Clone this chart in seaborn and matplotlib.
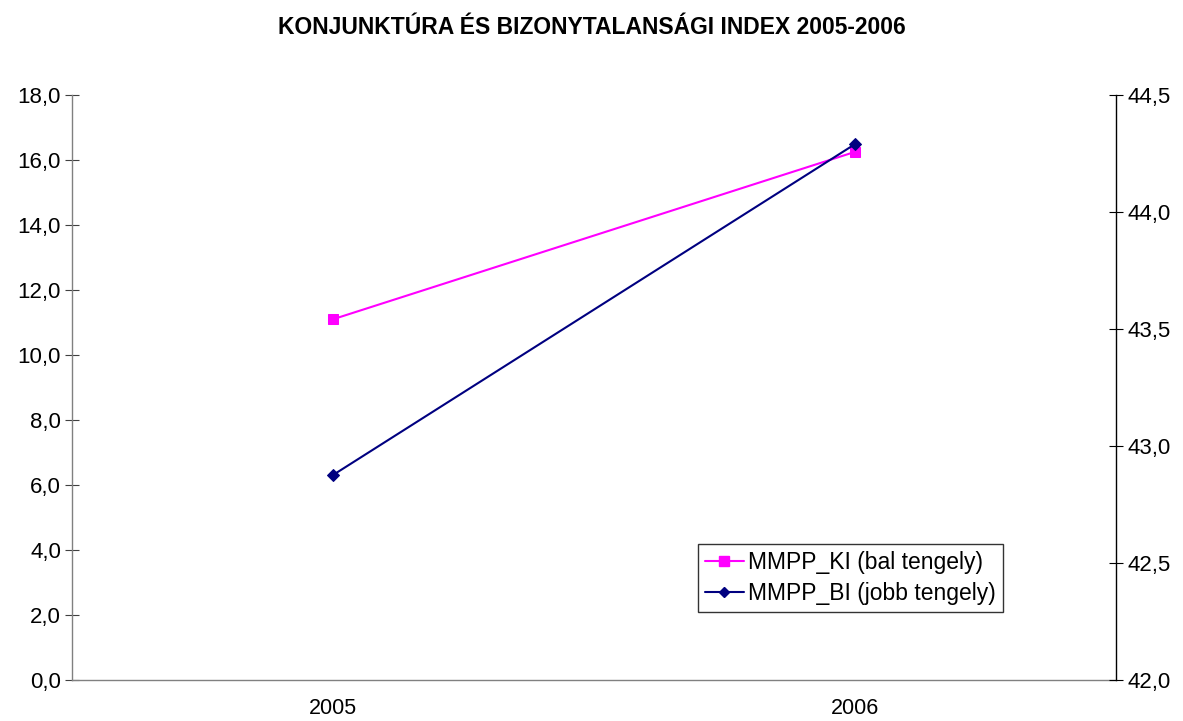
import matplotlib
matplotlib.use("Agg")
import matplotlib.pyplot as plt
import seaborn as sns
import pandas as pd
from matplotlib.ticker import FuncFormatter
from matplotlib.lines import Line2D

years = ["2005", "2006"]
ki_values = [11.1, 16.25]
bi_values = [42.876, 44.29]
title = "KONJUNKTÚRA ÉS BIZONYTALANSÁGI INDEX 2005-2006"
ki_label = "MMPP_KI (bal tengely)"
bi_label = "MMPP_BI (jobb tengely)"

sns.set_style("white")
plt.rcParams['font.family'] = ['Liberation Sans', 'DejaVu Sans']
plt.rcParams['text.color'] = 'black'
plt.rcParams['xtick.labelcolor'] = 'black'
plt.rcParams['ytick.labelcolor'] = 'black'

df = pd.DataFrame({"pos": range(len(years)), "year": years, "ki": ki_values, "bi": bi_values})

fig = plt.figure(figsize=(11.83, 7.21), dpi=100)
ax = fig.add_axes([72/1183, 1-680/721, (1116-72)/1183, (680-95)/721])
ax2 = ax.twinx()

pink = "#FF00FF"
navy = "#000080"

sns.lineplot(data=df, x="pos", y="ki", ax=ax, color=pink, marker="s", markersize=7,
             markeredgecolor=pink, linewidth=1.5, legend=False)
sns.lineplot(data=df, x="pos", y="bi", ax=ax2, color=navy, marker="D", markersize=6,
             markeredgecolor=navy, linewidth=1.5, legend=False)

ax.set_xlim(-0.5, len(years) - 0.5)
ax.set_ylim(0, 18)
ax2.set_ylim(42.0, 44.5)
ax.set_yticks([i * 2 for i in range(10)])
ax2.set_yticks([42.0, 42.5, 43.0, 43.5, 44.0, 44.5])
fmt = FuncFormatter(lambda v, p: f"{v:.1f}".replace(".", ","))
ax.yaxis.set_major_formatter(fmt)
ax2.yaxis.set_major_formatter(fmt)

ax.set_xticks([-0.5, 0.5, 1.5])
ax.set_xticklabels([])
ax.set_xticks(range(len(years)), minor=True)
ax.set_xticklabels(years, minor=True)
ax.tick_params(axis="x", which="minor", length=0, labelsize=15.5, pad=13, labelcolor="black")
ax.tick_params(axis="x", which="major", direction="inout", length=10, color="#808080")

ax.tick_params(axis="y", direction="inout", length=10, color="#404040", labelsize=16, pad=3, labelcolor="black")
ax2.tick_params(axis="y", direction="inout", length=10, color="black", labelsize=16, pad=3, labelcolor="black")

for a in (ax, ax2):
    a.set_xlabel("")
    a.set_ylabel("")
    a.grid(False)
ax.spines["top"].set_visible(False)
ax2.spines["top"].set_visible(False)
ax.spines["right"].set_visible(False)
ax2.spines["left"].set_visible(False)
ax2.spines["bottom"].set_visible(False)
ax.spines["left"].set_color("#808080")
ax.spines["bottom"].set_color("#808080")
ax2.spines["right"].set_color("black")
for s in ax.spines.values():
    s.set_linewidth(1.0)
ax2.spines["right"].set_linewidth(1.0)

fig.text(0.5, 1 - 28/721, title, ha="center", va="center", fontsize=16.5, fontweight="bold", color="black")

handles = [
    Line2D([], [], color=pink, marker="s", markersize=7, linewidth=1.5, markeredgecolor=pink),
    Line2D([], [], color=navy, marker="D", markersize=5, linewidth=1.5, markeredgecolor=navy),
]
leg = ax2.legend(handles, [ki_label, bi_label], loc="lower left",
                 bbox_to_anchor=((698-72)/1044, (680-612)/585), borderaxespad=0,
                 frameon=True, fancybox=False, fontsize=16.5, handlelength=1.7,
                 handletextpad=0.2, borderpad=0.3, labelspacing=0.35)
for t in leg.get_texts():
    t.set_color("black")
leg.get_frame().set_edgecolor("black")
leg.get_frame().set_linewidth(1.0)

fig.savefig("out.png", dpi=100)
